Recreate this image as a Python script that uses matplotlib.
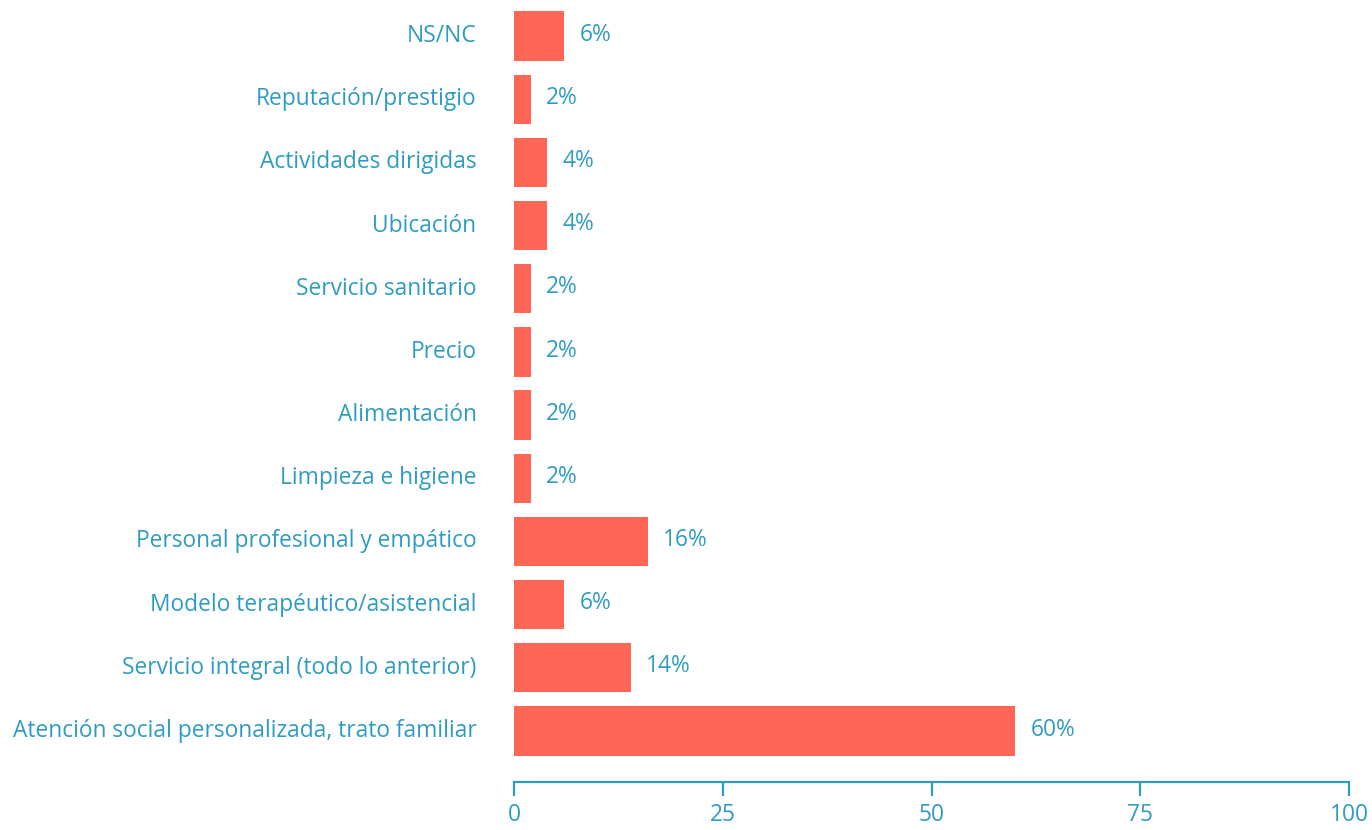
import matplotlib
matplotlib.use("Agg")
import matplotlib.pyplot as plt

# Motivos de elección (porcentaje), de abajo hacia arriba
categorias = [
    "Atención social personalizada, trato familiar",
    "Servicio integral (todo lo anterior)",
    "Modelo terapéutico/asistencial",
    "Personal profesional y empático",
    "Limpieza e higiene",
    "Alimentación",
    "Precio",
    "Servicio sanitario",
    "Ubicación",
    "Actividades dirigidas",
    "Reputación/prestigio",
    "NS/NC",
]
valores = [60, 14, 6, 16, 2, 2, 2, 2, 4, 4, 2, 6]
ticks_x = [0, 25, 50, 75, 100]

BAR = "#FF6655"
TEXTO = "#2E9CC2"
FS = 16.4

plt.rcParams["font.family"] = ["Open Sans", "DejaVu Sans"]

fig = plt.figure(figsize=(13.72, 8.3), dpi=100)
ax = fig.add_axes([514 / 1372, 48 / 830, 835 / 1372, 782 / 830])

pos = list(range(len(categorias)))
barras = ax.barh(pos, valores, height=0.78, color=BAR)

for b, v in zip(barras, valores):
    ax.annotate(f"{v}%", (b.get_width(), b.get_y() + b.get_height() / 2),
                xytext=(11, 1), textcoords="offset points",
                va="center", ha="left", color=TEXTO, fontsize=FS)

ax.set_xlim(0, 100)
ax.set_ylim(-0.807, 11.57)
ax.set_yticks(pos)
ax.set_yticklabels(categorias, va="center")
ax.set_xticks(ticks_x)
ax.set_xticklabels([str(t) for t in ticks_x])

for s in ["top", "right", "left"]:
    ax.spines[s].set_visible(False)
ax.spines["bottom"].set_color(TEXTO)
ax.spines["bottom"].set_linewidth(1.6)

ax.tick_params(axis="y", length=0, pad=27, labelsize=FS, labelcolor=TEXTO)
ax.tick_params(axis="x", length=10, width=1.6, color=TEXTO, pad=5,
               labelsize=FS, labelcolor=TEXTO)

fig.savefig("out.png", dpi=100)
